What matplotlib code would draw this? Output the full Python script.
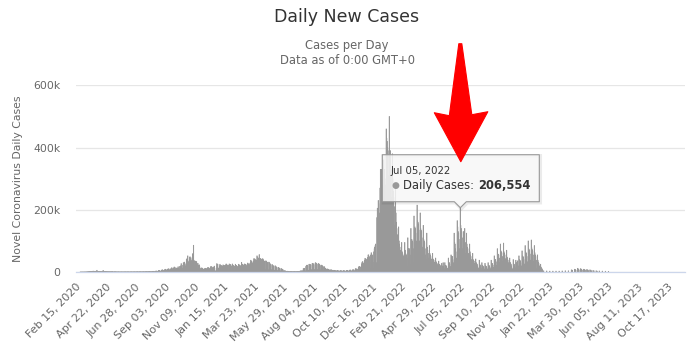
import matplotlib
matplotlib.use("Agg")
import matplotlib.pyplot as plt
import matplotlib.transforms as mtransforms
from matplotlib.patches import Polygon
import numpy as np
import pandas as pd

plt.rcParams["font.family"] = ["DejaVu Sans"]

START_DATE = "2020-02-15"
N_CATEGORIES = 1381
TICK_STEP = 67

# daily new cases, in thousands (Feb 15 2020 onwards)
cases_2020 = [
    0, 0, 0, 0, 0, 0, 0, 0, 0, 0.01, 0.01, 0.02, 0.01, 0.02, 0.04,
    0.05, 0.03, 0.06, 0.05, 0.1, 0.2, 0.1, 0.2, 0.3, 0.3, 0.5, 0.6, 0.8, 0.8, 0.9, 1.2,
    1.1, 1.4, 1.6, 1.9, 1.6, 1.6, 2.4, 2.4, 2.9, 2.0, 2.4, 2.2, 1.8, 2.3, 2.5,
    2.2, 5.6, 2.0, 1.9, 1.6, 2.0, 2.3, 2.1, 1.8, 1.9, 1.7, 1.4, 1.2, 1.3, 1.8,
    5.2, 2.0, 1.5, 1.3, 1.2, 1.6, 1.0, 1.1, 1.2, 1.0, 0.9, 0.6, 1.0, 0.8, 0.9,
    0.7, 0.9, 0.6, 0.5, 0.8, 1.1, 0.9, 0.8, 0.5, 0.3, 0.4, 0.8, 0.7, 0.6, 0.6, 0.5,
    0.3, 0.2, 0.5, 0.5, 0.4, 0.5, 0.3, 0.2, 0.2, 0.4, 0.4, 0.4, 0.3, 0.3, 0.3,
    0.3, 0.3, 0.4, 0.4, 0.5, 0.4, 0.3, 0.2, 0.4, 0.4, 0.5, 0.5, 0.4, 0.3, 0.2,
    0.4, 0.4, 0.5, 0.6, 0.5, 0.4, 0.3, 0.3, 0.5, 0.5, 0.6, 0.5, 0.4, 0.3, 0.5,
    0.6, 0.6, 0.7, 0.6, 0.4, 0.3, 0.6, 0.7, 0.8, 0.7, 0.6, 0.5, 0.5, 0.6, 0.7, 0.8,
    0.9, 0.7, 0.5, 0.6, 0.9, 1.0, 1.0, 1.1, 1.0, 0.7, 0.6, 1.1, 1.3, 1.4, 1.3,
    1.3, 0.4, 0.7, 1.0, 1.7, 1.6, 2.3, 2.3, 0.7, 0.5, 1.4, 2.5, 2.7, 2.8, 3.3, 0.5,
    0.5, 2.2, 3.8, 4.8, 4.6, 4.6, 1.6, 1.5, 3.3, 5.4, 6.1, 7.4, 5.5, 5.4, 3.1,
    4.5, 7, 7, 9, 8.5, 7, 4, 6.5, 8.5, 9.8, 9.4, 10.5, 7.2, 6, 7.9,
    10, 10, 13, 13.5, 10.5, 5, 10, 13, 16, 15.8, 14.4, 11, 4, 8, 12.8,
    13, 12, 17, 12, 5, 10, 18, 18, 20, 27, 17, 9, 12, 22, 30, 26,
    32, 29, 13, 20, 26, 41, 42, 45, 52, 26, 33, 36, 47, 49, 35,
    46, 21, 37, 40, 58, 60, 86, 38, 20, 35, 33, 35, 33, 33, 27,
    10, 28, 21, 22, 23, 17, 12, 5, 9, 13, 13, 12, 11, 9, 4,
    8, 10, 12, 11, 12, 11, 4, 4, 14, 13, 14, 13, 11, 3, 11, 17,
    18, 15, 16, 13, 5, 12, 16, 19, 13, 4, 3, 3, 11, 27, 21,
]

cases_2021 = [
    25, 12, 13, 4, 20, 25, 21, 20, 21, 16, 4, 19, 23, 21, 21, 21,
    17, 4, 23, 26, 23, 23, 21, 18, 4, 22, 26, 23, 23, 24, 19,
    4, 20, 26, 23, 21, 20, 19, 4, 19, 25, 21, 21, 20, 18,
    4, 17, 25, 22, 23, 22, 20, 5, 20, 31, 25, 25, 24, 22,
    5, 22, 26, 25, 24, 23, 20, 5, 24, 29, 26, 25, 27, 22, 6, 30,
    38, 35, 35, 30, 27, 8, 35, 43, 42, 42, 40, 37, 10, 38, 52,
    48, 45, 45, 38, 56, 10, 44, 42, 42, 40, 10, 8, 43, 40, 38,
    35, 34, 9, 6, 36, 35, 33, 31, 30, 8, 5, 32, 30, 27, 26,
    20, 8, 4, 24, 23, 21, 20, 18, 6, 3, 20, 19, 17, 16, 14, 5,
    2.5, 15, 14, 13, 12, 11, 4, 2, 11, 10, 9, 8, 7, 2.5, 1.2,
    4, 4, 3.5, 3, 2.5, 1, 0.5, 2.5, 2.5, 2, 2, 1.8, 0.6, 0.3, 1.8,
    1.8, 1.6, 1.5, 1.4, 0.5, 0.3, 1.5, 1.5, 1.4, 1.4, 1.2, 0.4, 0.3, 1.8, 2,
    2, 2, 1.8, 0.6, 0.4, 2.5, 3, 3.5, 4, 3.5, 1.2, 0.7, 5, 11, 10, 12,
    11, 4, 2, 18, 21, 22, 22, 20, 6, 3, 25, 25, 24, 24, 22,
    8, 4, 27, 28, 27, 26, 24, 8, 4, 29, 30, 28, 27, 25, 8, 4,
    27, 27, 25, 24, 21, 7, 3.5, 22, 22, 20, 19, 17, 5, 2.5, 17,
    13, 12, 11, 9, 3, 1.5, 10, 9, 8, 8, 6.5, 2, 1, 7, 7,
    6.5, 6, 5, 1.5, 0.8, 5.5, 5.5, 5, 5, 4, 1.2, 0.6, 4.5, 5, 4.5,
    4, 3.5, 1, 0.5, 4, 4.5, 4, 4, 3.5, 1, 0.5, 4, 4.5, 4, 4, 3.5,
    1, 0.5, 4, 5, 5, 5, 4.5, 1.5, 0.7, 5.5, 6, 6, 6.5, 5, 1.5,
    1.5, 6, 7, 7, 7, 6, 2, 3, 10, 11, 9, 10, 9, 3, 3,
    14, 17, 17, 18, 16, 5, 5, 25, 30, 33, 33, 28, 9, 8, 38,
    44, 42, 42, 40, 27, 12, 47, 55, 55, 50, 48, 32, 10, 55, 62, 55,
    55, 52, 32, 12, 65, 75, 80, 85, 90, 28, 30, 175, 205, 205, 230,
]

cases_2022 = [
    220, 190, 70, 270, 330, 260, 330, 300, 280, 100, 360, 360, 300, 330, 300, 280,
    100, 460, 430, 420, 400, 390, 310, 110, 500, 390, 390, 340, 330, 240, 90,
    380, 300, 260, 240, 210, 150, 45, 270, 190, 160, 140, 120, 90, 30,
    145, 100, 90, 80, 70, 50, 20, 95, 65, 60, 55, 50, 40, 15,
    95, 70, 60, 55, 55, 45, 18, 110, 75, 75, 75, 70, 55, 25, 140, 105,
    105, 100, 95, 75, 30, 180, 140, 145, 140, 125, 100, 40, 215, 165, 160,
    155, 135, 100, 40, 190, 140, 135, 130, 110, 80, 30, 150, 105, 100, 95,
    75, 55, 20, 40, 125, 80, 70, 60, 45, 15, 85, 60, 55, 50, 42,
    30, 10, 60, 42, 40, 38, 32, 25, 8, 45, 33, 30, 28, 24, 17, 5,
    35, 25, 24, 22, 18, 13, 4, 28, 20, 6, 30, 18, 12, 4, 30,
    22, 20, 20, 17, 12, 5, 12, 45, 30, 30, 25, 18, 7, 55, 50,
    50, 50, 40, 30, 10, 125, 95, 90, 75, 65, 45, 15, 165, 145, 130,
    125, 105, 75, 25, 206.554, 150, 140, 130, 110, 75, 25, 130, 100, 40, 140, 95,
    60, 20, 125, 90, 80, 75, 60, 40, 12, 90, 65, 55, 50, 40, 28,
    9, 60, 40, 37, 35, 28, 20, 6, 42, 30, 28, 25, 20, 14, 4, 12,
    38, 25, 22, 17, 12, 4, 30, 21, 20, 18, 15, 10, 3, 28, 20,
    19, 18, 14, 10, 3, 30, 22, 20, 20, 16, 11, 4, 38, 28, 27,
    27, 22, 15, 5, 52, 40, 40, 40, 33, 22, 7, 75, 58, 57, 55,
    45, 30, 10, 90, 68, 65, 62, 50, 34, 11, 93, 65, 60, 55, 43, 28,
    9, 70, 48, 43, 38, 30, 19, 6, 45, 31, 28, 25, 20, 13, 4,
    10, 40, 26, 25, 20, 14, 4, 38, 30, 30, 9, 36, 20, 6, 52,
    40, 38, 36, 30, 20, 7, 68, 52, 50, 48, 40, 26, 9, 85, 65,
    62, 60, 50, 33, 12, 100, 75, 72, 70, 58, 38, 13, 103, 78, 72, 68,
    55, 35, 12, 85, 62, 55, 50, 38, 10, 8, 55, 38, 32, 28, 20,
]

cases_2023 = [
    6, 3, 25, 16, 13, 11, 8, 3, 1, 4, 0, 0, 0, 0, 0, 0,
    3.5, 0, 0, 0, 0, 0, 0, 3, 0, 0, 0, 0, 0, 0, 3,
    0, 0, 0, 0, 0, 0, 3, 0, 0, 0, 0, 0, 0, 3,
    0, 0, 0, 0, 0, 0, 3.5, 0, 0, 0, 0, 0, 0, 4,
    0, 0, 0, 0, 0, 0, 4, 0, 0, 0, 0, 0, 0, 7, 0, 6,
    0, 0, 0, 0, 9, 5, 8, 6, 0, 0, 0, 12, 7, 10, 7,
    0, 0, 0, 11, 8, 9, 6, 0, 0, 0, 9, 7, 8, 6, 0,
    0, 0, 8, 6, 7, 5, 0, 0, 0, 7, 5, 6, 4, 0, 0,
    0, 5, 0, 4, 0, 0, 0, 0, 4, 0, 3, 0, 0, 0, 0, 3.5,
    0, 0, 0, 0, 0, 0, 3, 0, 0, 0, 0, 0, 0, 2.5, 0,
    0, 0, 0, 0, 0, 2,
]

assert len(cases_2020) == 321 and len(cases_2021) == 365 and len(cases_2022) == 365

cases = np.array(cases_2020 + cases_2021 + cases_2022 + cases_2023) * 1000
days = np.arange(len(cases))
dates = pd.date_range(START_DATE, periods=N_CATEGORIES, freq="D")
labels = [d.strftime("%b %d, %Y") for d in dates]

fig = plt.figure(figsize=(6.94, 3.49), dpi=100)
ax = fig.add_axes([76 / 694, 77 / 349, 609 / 694, 187 / 349])

# columns are narrower than a pixel, so a thin same-colour edge keeps them solid;
# days with nothing reported get no column at all
reported = cases > 0
ax.bar(days[reported], cases[reported], width=1.0, color="#999999",
       edgecolor="#999999", linewidth=0.45, snap=False)

ax.set_xlim(-0.5, N_CATEGORIES - 0.5)
ax.set_ylim(0, 601000)
ticks = np.arange(0, N_CATEGORIES, TICK_STEP)
ax.set_xticks(ticks, [labels[i] for i in ticks])
ax.set_yticks([0, 200000, 400000, 600000], ["0", "200k", "400k", "600k"])
for lab in ax.get_xticklabels():
    lab.set_rotation(45)
    lab.set_ha("right")
    lab.set_va("top")
    lab.set_rotation_mode("anchor")
ax.tick_params(axis="x", length=0, pad=7, labelsize=8, labelcolor="#666666")
ax.tick_params(axis="y", length=0, pad=11, labelsize=7.8, labelcolor="#666666")
ax.grid(axis="y", color="#e6e6e6", linewidth=0.9)
ax.set_axisbelow(True)
for side in ("top", "left", "right"):
    ax.spines[side].set_visible(False)
ax.spines["bottom"].set_color("#ccd6eb")
ax.spines["bottom"].set_linewidth(0.9)
ax.spines["bottom"].set_zorder(3)

fig.text(0.5, 1 - 17 / 349, "Daily New Cases", ha="center", va="center",
         fontsize=12.5, color="#333333")
fig.text(0.5, 1 - 46 / 349, "Cases per Day", ha="center", va="center",
         fontsize=8.3, color="#666666")
fig.text(0.5, 1 - 61 / 349, "Data as of 0:00 GMT+0", ha="center", va="center",
         fontsize=8.3, color="#666666")
fig.text(18 / 694, 1 - 178.5 / 349, "Novel Coronavirus Daily Cases", rotation=90,
         ha="center", va="center", fontsize=7.8, color="#666666")

# tooltip for the highlighted day, anchored on the bar top
hi = int(pd.Timestamp("2022-07-05").toordinal() - pd.Timestamp(START_DATE).toordinal())
hi_val = cases[hi]
anchor = mtransforms.ScaledTranslation(hi, hi_val, ax.transData)
px = fig.dpi_scale_trans + anchor


def offsets(points):
    return [(x / 100, y / 100) for x, y in points]


box = [(-78, 53), (79, 53), (79, 6), (6, 6), (0, 0), (-6, 6), (-78, 6)]
shadow = Polygon(offsets([(x + 1, y - 1) for x, y in box]), closed=True,
                 facecolor="none", edgecolor="black", alpha=0.08, linewidth=2.5,
                 transform=px, zorder=4, clip_on=False)
tip = Polygon(offsets(box), closed=True, facecolor=(0.969, 0.969, 0.969, 0.85),
              edgecolor="#999999", linewidth=0.8, joinstyle="round",
              transform=px, zorder=5, clip_on=False)
ax.add_artist(shadow)
ax.add_artist(tip)

ax.annotate(labels[hi], (hi, hi_val), xytext=(-70, 37), textcoords="offset pixels",
            ha="left", va="center", fontsize=7.3, color="#333333",
            annotation_clip=False, zorder=6)
ax.annotate("\u25cf", (hi, hi_val), xytext=(-65, 22), textcoords="offset pixels",
            ha="center", va="center", fontsize=6.5, color="#999999",
            annotation_clip=False, zorder=6)
name = ax.annotate("Daily Cases: ", (hi, hi_val), xytext=(-57, 22),
                   textcoords="offset pixels", ha="left", va="center",
                   fontsize=8.3, color="#333333", annotation_clip=False, zorder=6)
ax.annotate(f"{round(hi_val):,}", xy=(1, 0.5), xycoords=name, ha="left", va="center",
            fontsize=8.3, fontweight="bold", color="#333333",
            annotation_clip=False, zorder=6)

# red arrow pointing down at the highlighted bar
arrow = [(-1.5, 164), (1.5, 164), (11.5, 93), (27.5, 96), (0.5, 46),
         (-26, 95), (-11, 92)]
ax.add_artist(Polygon(offsets(arrow), closed=True, facecolor="#ff0000",
                      edgecolor="#ff0000", linewidth=0.8, joinstyle="round",
                      transform=px, zorder=7, clip_on=False))

fig.savefig("out.png", dpi=100)
